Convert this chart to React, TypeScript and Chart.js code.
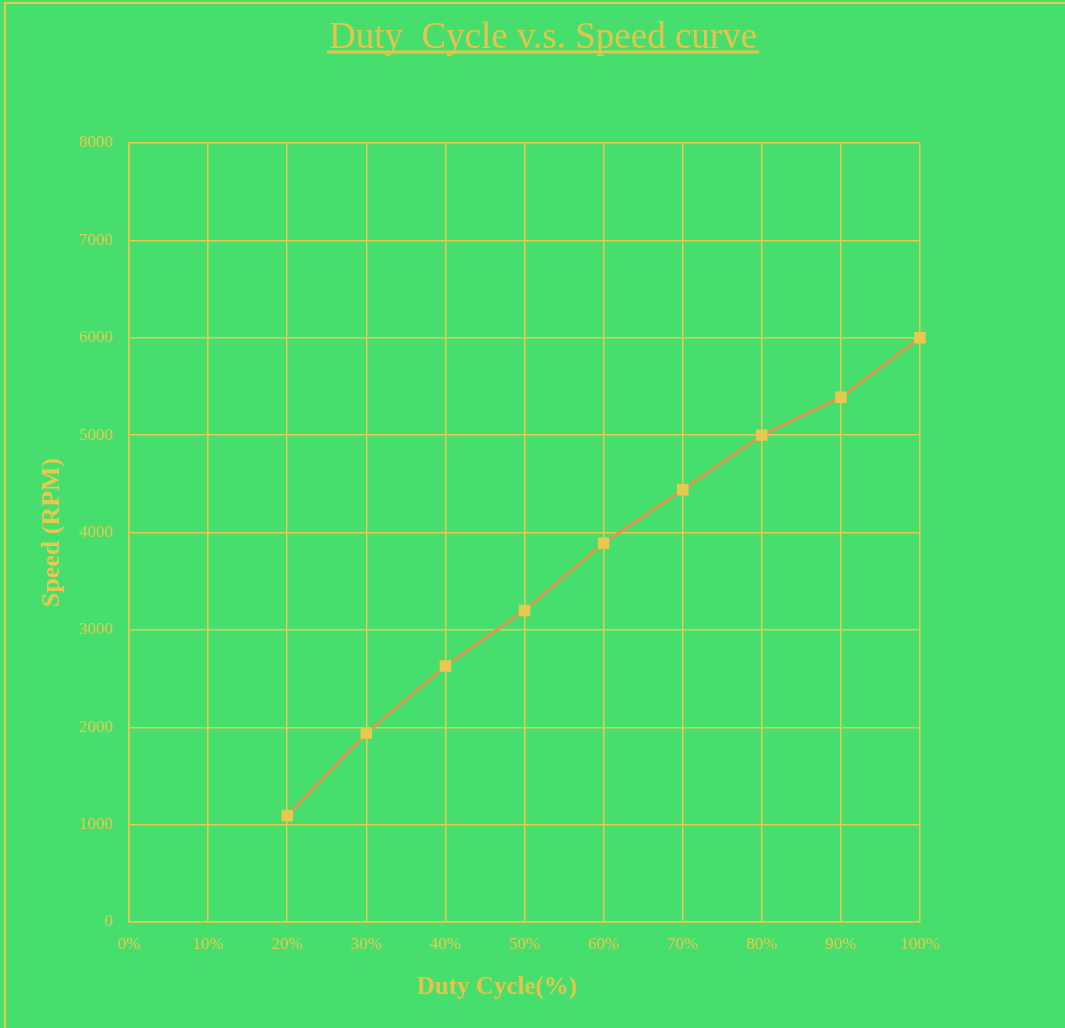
import React, { useEffect, useRef } from "react";
import { Chart, registerables } from "chart.js";

Chart.register(...registerables);

const dutyCycles = [0.2, 0.3, 0.4, 0.5, 0.6, 0.7, 0.8, 0.9, 1.0];
const speeds = [1090, 1940, 2630, 3200, 3890, 4440, 5000, 5390, 6000];
const titleText = "Duty  Cycle v.s. Speed curve";
const xTitle = "Duty Cycle(%)";
const yTitle = "Speed (RPM)";

const BG = "#46DF6D";
const YEL = "#E8C84F";

const decorPlugin = {
  id: "decor",
  beforeDraw(chart: any) {
    const { ctx, width, height } = chart;
    ctx.save();
    ctx.fillStyle = BG;
    ctx.fillRect(0, 0, width, height);
    ctx.strokeStyle = YEL;
    ctx.lineWidth = 2;
    ctx.beginPath();
    ctx.moveTo(5, height);
    ctx.lineTo(5, 3);
    ctx.lineTo(width, 3);
    ctx.stroke();
    ctx.restore();
  },
  afterDraw(chart: any) {
    const { ctx } = chart;
    ctx.save();
    ctx.font = "normal 37px 'Liberation Serif'";
    ctx.fillStyle = "#E6C44C";
    ctx.textAlign = "center";
    ctx.textBaseline = "middle";
    const cx = 543;
    const cy = 38;
    ctx.fillText(titleText, cx, cy);
    const w = ctx.measureText(titleText).width;
    ctx.strokeStyle = "#E6C44C";
    ctx.lineWidth = 3;
    ctx.beginPath();
    ctx.moveTo(cx - w / 2 - 2, 52);
    ctx.lineTo(cx + w / 2 + 2, 52);
    ctx.stroke();
    ctx.font = "bold 25px 'Liberation Serif'";
    ctx.fillText(xTitle, 497, 988);
    ctx.restore();
  },
};

export default function App() {
  const ref = useRef<HTMLCanvasElement | null>(null);
  useEffect(() => {
    document.body.style.margin = "0";
    const canvas = ref.current!;
    const chart = new Chart(canvas, {
      type: "line",
      data: {
        datasets: [
          {
            data: dutyCycles.map((x, i) => ({ x, y: speeds[i] })),
            borderColor: "#D99A50",
            borderWidth: 3,
            backgroundColor: YEL,
            pointBackgroundColor: YEL,
            pointBorderColor: YEL,
            pointStyle: "rect",
            pointRadius: 6,
            tension: 0,
            clip: false as any,
          },
        ],
      },
      options: {
        animation: false,
        responsive: false,
        layout: { padding: { left: 30, top: 143, right: 145, bottom: 0 } },
        plugins: {
          legend: { display: false },
          title: { display: false },
          tooltip: { enabled: false },
        },
        scales: {
          x: {
            type: "linear",
            min: 0,
            max: 1,
            ticks: {
              stepSize: 0.1,
              color: YEL,
              padding: 12,
              font: { family: "'Liberation Serif'", size: 17 },
              callback: (v: any) => Math.round(Number(v) * 100) + "%",
            },
            grid: { color: YEL, lineWidth: 1.5, drawTicks: false },
            border: { color: YEL, width: 1.5 },
            afterFit: (s: any) => {
              s.height = 106;
            },
          },
          y: {
            min: 0,
            max: 8000,
            ticks: {
              stepSize: 1000,
              color: YEL,
              padding: 16,
              font: { family: "'Liberation Serif'", size: 17 },
              callback: (v: any) => String(v),
            },
            grid: { color: YEL, lineWidth: 1.5, drawTicks: false },
            border: { color: YEL, width: 1.5 },
            title: {
              display: true,
              text: yTitle,
              color: YEL,
              padding: { top: 7, bottom: 0 },
              font: { family: "'Liberation Serif'", size: 26, weight: "bold" },
            },
            afterFit: (s: any) => {
              s.width = 99;
            },
          },
        },
      },
      plugins: [decorPlugin],
    });
    return () => chart.destroy();
  }, []);
  return <canvas ref={ref} width={1065} height={1028} style={{ display: "block" }} />;
}
